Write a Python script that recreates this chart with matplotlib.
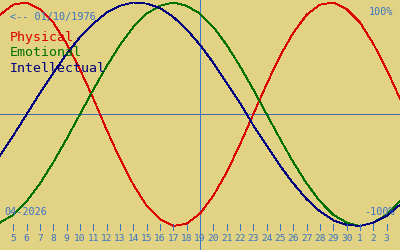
import matplotlib
matplotlib.use('Agg')
import matplotlib.pyplot as plt
import matplotlib.transforms as mtransforms

# 날짜 (4월 4일 ~ 5월 4일, 5월은 31~34로 이어서 표시)
days = list(range(4, 35))

# 바이오리듬 값
physical = [0.89, 0.98, 1.00, 0.94, 0.82, 0.63, 0.40, 0.14, -0.14, -0.40, -0.63,
            -0.82, -0.94, -1.00, -0.98, -0.89, -0.73, -0.52, -0.27, 0.00, 0.27,
            0.52, 0.73, 0.89, 0.98, 1.00, 0.94, 0.82, 0.63, 0.40, 0.14]
emotional = [-0.97, -0.90, -0.78, -0.62, -0.43, -0.22, 0.00, 0.22, 0.43, 0.62, 0.78,
             0.90, 0.97, 1.00, 0.97, 0.90, 0.78, 0.62, 0.43, 0.22, 0.00,
             -0.22, -0.43, -0.62, -0.78, -0.90, -0.97, -1.00, -0.97, -0.90, -0.78]
intellectual = [-0.37, -0.19, 0.00, 0.19, 0.37, 0.54, 0.69, 0.81, 0.91, 0.97, 1.00,
                0.99, 0.95, 0.87, 0.76, 0.62, 0.46, 0.28, 0.10, -0.10, -0.28,
                -0.46, -0.62, -0.76, -0.87, -0.95, -0.99, -1.00, -0.97, -0.91, -0.81]

# 눈금 (x 위치와 라벨)
tick_days = list(range(5, 34))
tick_labels = [str(d) for d in range(5, 31)] + ['1', '2', '3']

today = 19
birth_text = '<-- 01/10/1976'
month_text = '04-2026'

bg = '#e1d383'
blue_txt = '#3a72c4'
mono = 'DejaVu Sans Mono'
lw = 0.6

fig = plt.figure(figsize=(4, 2.5), dpi=100, facecolor=bg)
ax = fig.add_axes([0, 0, 1, 1], facecolor=bg)
ax.set_xlim(4, 34)
ax.set_ylim(-1.215, 1.022)
ax.axis('off')

# 기준선
ax.axhline(0, color='#3d6cb0', lw=lw, antialiased=False)
ax.axvline(today, color='#3a78d0', lw=lw, antialiased=False)

# 곡선
ax.plot(days, physical, color='#dd0000', lw=lw, antialiased=False)
ax.plot(days, emotional, color='#007000', lw=lw, antialiased=False)
ax.plot(days, intellectual, color='#000080', lw=lw, antialiased=False)

# 날짜 눈금
trans = mtransforms.blended_transform_factory(ax.transData, ax.transAxes)
ax.vlines(tick_days, 0.08, 0.104, transform=trans, color=blue_txt, lw=lw, antialiased=False)
for d, lab in zip(tick_days, tick_labels):
    ax.text(d, 0.046, lab, transform=trans, ha='center', va='center',
            fontsize=6.8, family=mono, color=blue_txt)

# 텍스트
ax.text(0.025, 0.932, birth_text, transform=ax.transAxes, va='center',
        fontsize=7.3, family=mono, color=blue_txt)
ax.text(0.025, 0.848, 'Physical', transform=ax.transAxes, va='center',
        fontsize=9.5, family=mono, color='#dd0000')
ax.text(0.025, 0.788, 'Emotional', transform=ax.transAxes, va='center',
        fontsize=9.5, family=mono, color='#007000')
ax.text(0.025, 0.728, 'Intellectual', transform=ax.transAxes, va='center',
        fontsize=9.5, family=mono, color='#000080')
ax.text(0.983, 0.952, '100%', transform=ax.transAxes, va='center', ha='right',
        fontsize=7.3, family=mono, color=blue_txt)
ax.text(0.9875, 0.152, '-100%', transform=ax.transAxes, va='center', ha='right',
        fontsize=7.3, family=mono, color=blue_txt)
ax.text(0.01, 0.152, month_text, transform=ax.transAxes, va='center',
        fontsize=7.3, family=mono, color=blue_txt)

fig.savefig('out.png', dpi=100, facecolor=bg)
